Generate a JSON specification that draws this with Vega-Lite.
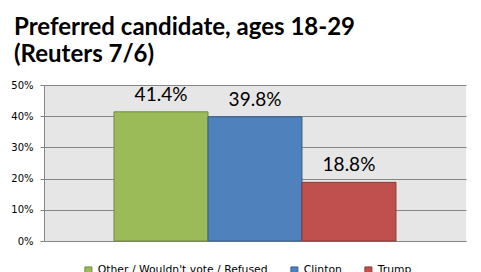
{
  "$schema": "https://vega.github.io/schema/vega-lite/v6.json",
  "autosize": {"type": "none"},
  "width": 422,
  "height": 156,
  "padding": {"left": 44, "top": 85, "right": 15, "bottom": 31},
  "background": "white",
  "title": {
    "text": ["Preferred candidate, ages 18-29", "(Reuters 7/6)"],
    "anchor": "start",
    "frame": "group",
    "dx": -30,
    "offset": 13,
    "font": "Lato",
    "fontSize": 24,
    "fontWeight": "bold",
    "color": "#000000",
    "lineHeight": 27
  },
  "data": {
    "values": [
      {"candidate": "Other / Wouldn't vote / Refused", "share": 41.4, "label": "41.4%"},
      {"candidate": "Clinton", "share": 39.8, "label": "39.8%"},
      {"candidate": "Trump", "share": 18.8, "label": "18.8%"}
    ]
  },
  "encoding": {
    "x": {
      "field": "candidate",
      "type": "nominal",
      "sort": null,
      "scale": {"paddingInner": 0, "paddingOuter": 0.745},
      "axis": {"labels": false, "ticks": false, "title": null, "domainColor": "#868686", "domainWidth": 1}
    },
    "y": {
      "field": "share",
      "type": "quantitative",
      "scale": {"domain": [0, 50]},
      "axis": {
        "values": [0, 10, 20, 30, 40, 50],
        "labelExpr": "datum.value + '%'",
        "title": null,
        "gridColor": "#868686",
        "gridOpacity": 1,
        "domainColor": "#868686",
        "tickColor": "#868686",
        "tickSize": 4,
        "labelPadding": 7,
        "labelFont": "DejaVu Sans",
        "labelFontSize": 10,
        "labelColor": "#000000"
      }
    }
  },
  "layer": [
    {
      "mark": {"type": "bar", "strokeWidth": 1},
      "encoding": {
        "fill": {
          "field": "candidate",
          "type": "nominal",
          "sort": null,
          "scale": {
            "domain": ["Other / Wouldn't vote / Refused", "Clinton", "Trump"],
            "range": ["#9bbb59", "#4f81bd", "#c0504d"]
          },
          "legend": {
            "title": null,
            "orient": "none",
            "direction": "horizontal",
            "legendX": 39,
            "legendY": 180,
            "columnPadding": 20,
            "symbolType": "square",
            "symbolSize": 49,
            "symbolStrokeWidth": 1,
            "labelOffset": 4,
            "labelLimit": 400,
            "labelFont": "DejaVu Sans",
            "labelFontSize": 10.8,
            "labelColor": "#000000"
          }
        },
        "stroke": {
          "field": "candidate",
          "type": "nominal",
          "sort": null,
          "scale": {
            "domain": ["Other / Wouldn't vote / Refused", "Clinton", "Trump"],
            "range": ["#71893f", "#385d8a", "#8c3836"]
          },
          "legend": {
            "title": null,
            "orient": "none",
            "direction": "horizontal",
            "legendX": 39,
            "legendY": 180,
            "columnPadding": 20,
            "symbolType": "square",
            "symbolSize": 49,
            "symbolStrokeWidth": 1,
            "labelOffset": 4,
            "labelLimit": 400,
            "labelFont": "DejaVu Sans",
            "labelFontSize": 10.8,
            "labelColor": "#000000"
          }
        }
      }
    },
    {
      "mark": {"type": "text", "baseline": "alphabetic", "dy": -11, "font": "Lato", "fontSize": 19, "color": "#000000"},
      "encoding": {"text": {"field": "label"}}
    }
  ],
  "config": {
    "view": {"fill": "#e6e6e6", "stroke": null},
    "axis": {"gridWidth": 1}
  }
}
